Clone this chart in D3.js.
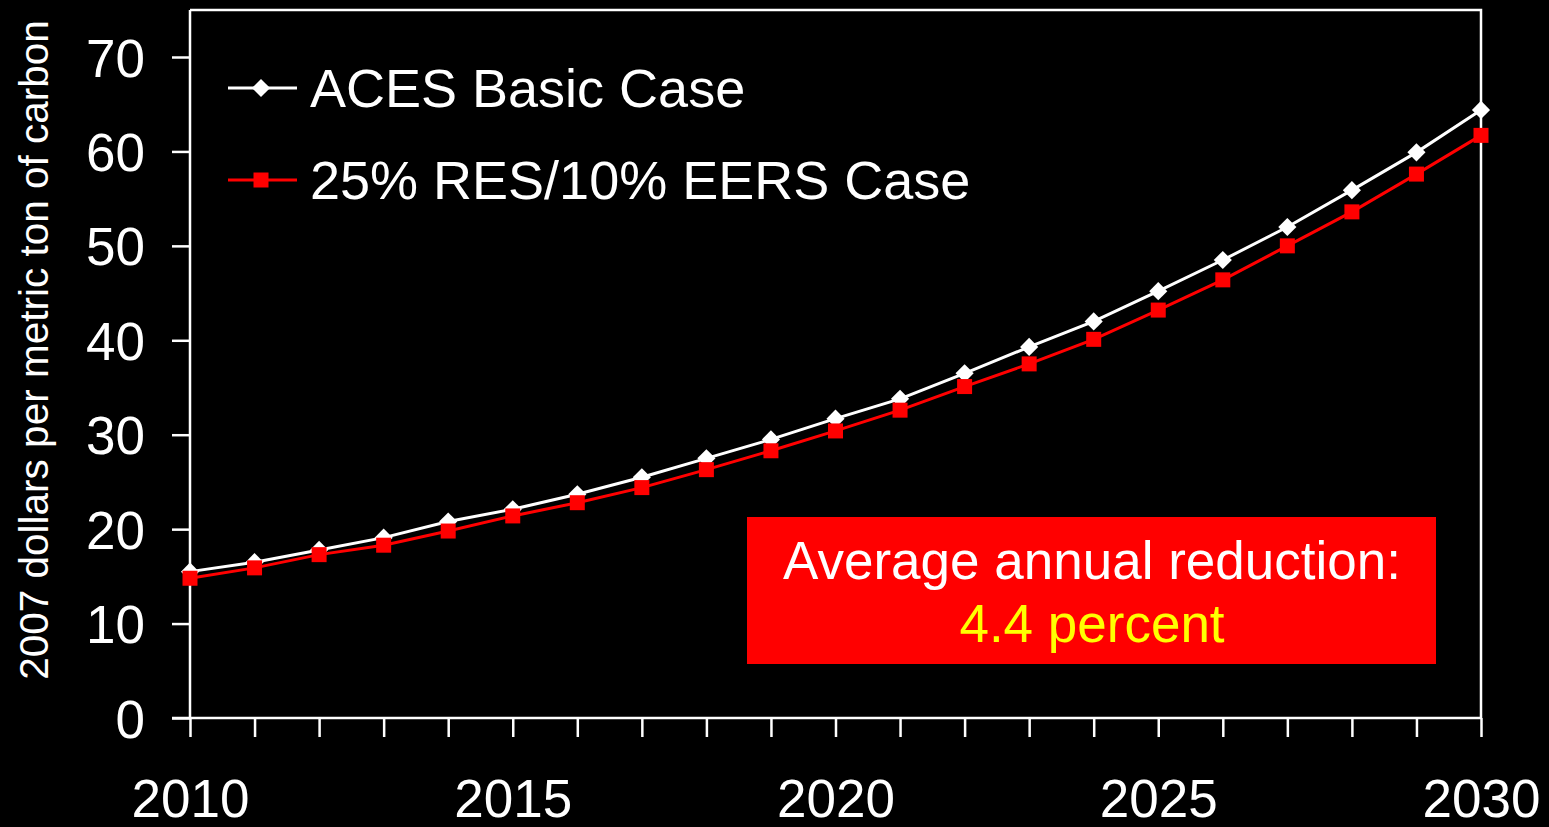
<!DOCTYPE html>
<html>
<head>
<meta charset="utf-8">
<script src="https://cdn.jsdelivr.net/npm/d3@7"></script>
<style>
  html, body { margin: 0; padding: 0; background: #000; }
  svg { display: block; }
</style>
</head>
<body>
<div id="chart"></div>
<script>
const years = d3.range(2010, 2031);
const acesBasic = [15.5, 16.5, 17.8, 19.1, 20.8, 22.1, 23.7, 25.5, 27.5, 29.5, 31.7,
                   33.8, 36.5, 39.3, 42.0, 45.2, 48.5, 52.0, 55.9, 59.9, 64.4];
const resEers = [14.8, 15.9, 17.3, 18.3, 19.8, 21.4, 22.8, 24.4, 26.3, 28.3, 30.4,
                 32.6, 35.1, 37.5, 40.1, 43.2, 46.4, 50.0, 53.6, 57.6, 61.7];
const yTicks = [0, 10, 20, 30, 40, 50, 60, 70];
const xLabels = [2010, 2015, 2020, 2025, 2030];
const seriesNames = ["ACES Basic Case", "25% RES/10% EERS Case"];

const width = 1549, height = 827;
const margin = {top: 10, right: 68, bottom: 109, left: 190};
const font = "'Liberation Sans', Arial, sans-serif";

const svg = d3.select("#chart").append("svg")
    .attr("width", width)
    .attr("height", height)
    .style("background", "#000");

const x = d3.scaleLinear().domain([2010, 2030]).range([margin.left, width - margin.right]);
const y = d3.scaleLinear().domain([0, 70]).range([height - margin.bottom, 57]);

// plot frame (top and right)
svg.append("path")
    .attr("d", `M${x(2010)},${margin.top}H${x(2030)}V${y(0)}`)
    .attr("fill", "none")
    .attr("stroke", "#fff")
    .attr("stroke-width", 2.5);

// y axis
const yAxis = svg.append("g")
    .attr("transform", `translate(${x(2010)},0)`)
    .call(d3.axisLeft(y).tickValues(yTicks).tickSize(18).tickPadding(27));
yAxis.select(".domain").attr("d", `M0,${margin.top}V${y(0)}`);

// x axis
const xAxis = svg.append("g")
    .attr("transform", `translate(0,${y(0)})`)
    .call(d3.axisBottom(x).tickValues(years).tickSize(19).tickPadding(42)
        .tickFormat(d => xLabels.includes(d) ? d : ""));
xAxis.select(".domain").attr("d", `M${x(2010) - 18},0H${x(2030)}`);

svg.selectAll(".tick line, .domain")
    .attr("stroke", "#fff")
    .attr("stroke-width", 2.5);
svg.selectAll(".tick text")
    .attr("fill", "#fff")
    .style("font-family", font)
    .style("font-size", "53px");
yAxis.selectAll(".tick text").attr("dy", "0.36em");

// y title
svg.append("text")
    .attr("transform", `translate(48,${(margin.top + y(0)) / 2 - 14}) rotate(-90)`)
    .attr("text-anchor", "middle")
    .attr("fill", "#fff")
    .style("font-family", font)
    .style("font-size", "40.5px")
    .text("2007 dollars per metric ton of carbon");

// annotation box
svg.append("rect")
    .attr("x", 747).attr("y", 517)
    .attr("width", 689).attr("height", 147)
    .attr("fill", "#ff0000");
svg.append("text")
    .attr("x", 1092).attr("y", 579)
    .attr("text-anchor", "middle")
    .attr("fill", "#fff")
    .style("font-family", font)
    .style("font-size", "53px")
    .text("Average annual reduction:");
svg.append("text")
    .attr("x", 1092).attr("y", 642)
    .attr("text-anchor", "middle")
    .attr("fill", "#ffff00")
    .style("font-family", font)
    .style("font-size", "53px")
    .text("4.4 percent");

// lines
const line = d3.line().x((d, i) => x(years[i])).y(d => y(d));
const series = [
    {name: seriesNames[0], values: acesBasic, color: "#fff", symbol: d3.symbolDiamond2, size: 210},
    {name: seriesNames[1], values: resEers, color: "#ff0000", symbol: d3.symbolSquare, size: 225}
];

series.forEach(s => {
    svg.append("path")
        .datum(s.values)
        .attr("d", line)
        .attr("fill", "none")
        .attr("stroke", s.color)
        .attr("stroke-width", 3);
    svg.selectAll(null)
        .data(s.values)
        .join("path")
        .attr("transform", (d, i) => `translate(${x(years[i])},${y(d)})`)
        .attr("d", d3.symbol().type(s.symbol).size(s.size))
        .attr("fill", s.color);
});

// legend
const legend = svg.append("g");
series.forEach((s, i) => {
    const ly = 88 + i * 92;
    legend.append("line")
        .attr("x1", 228).attr("x2", 297)
        .attr("y1", ly).attr("y2", ly)
        .attr("stroke", s.color)
        .attr("stroke-width", 3);
    legend.append("path")
        .attr("transform", `translate(261,${ly})`)
        .attr("d", d3.symbol().type(s.symbol).size(s.size))
        .attr("fill", s.color);
    legend.append("text")
        .attr("x", 310).attr("y", ly + 19)
        .attr("fill", "#fff")
        .style("font-family", font)
        .style("font-size", "54px")
        .text(s.name);
});
</script>
</body>
</html>
